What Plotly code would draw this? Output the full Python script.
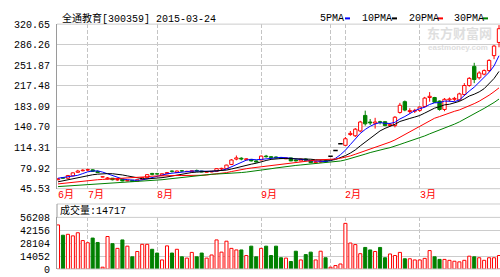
import plotly.graph_objects as go

W, H = 500, 277

# ---------------- data ----------------
open_ = [60.5, 64, 63, 67, 73, 75.5, 76.5, 77, 74.5, 65,
         62, 63, 60, 61.5, 58.5, 59.5, 58, 61, 64, 71,
         70.5, 68, 70.5, 75, 72.5, 75.5, 74, 74, 76, 75,
         73, 73.5, 74.5, 78.5, 79, 86, 95, 96.5, 94, 94.5,
         92, 93.5, 100, 99, 98.5, 97.5, 95.5, 97, 93.5, 92,
         95, 93, 89, 90, 92, 99.6, 109.5, 120.5, 118, 136,
         134, 142, 168, 157, 155, 157.5, 157.5, 151, 151, 173,
         191, 174.5, 175, 176.5, 183, 198, 198, 192, 178, 194,
         195, 194, 203, 218, 250, 231, 237, 243, 268, 290]
high = [63.5, 65, 68.5, 73, 77, 78, 79, 78, 76, 66,
        65, 63.5, 62, 62, 60.5, 60, 61, 64.5, 70, 72,
        72, 71, 73, 76, 76, 76.5, 75.5, 76, 77.5, 75.5,
        74.5, 75, 79.5, 80.5, 85.5, 95, 101, 98, 96.5, 95,
        93, 101, 102, 100, 99.5, 98, 97.5, 97.5, 94.5, 95.5,
        96, 93.5, 91.5, 93, 92.5, 99.6, 109.5, 120.5, 132, 142,
        147, 159, 176, 162, 164, 159, 158, 155, 167, 189,
        193, 180, 179, 183, 199, 207, 199, 193, 197, 198,
        199, 206, 222, 232, 256, 242, 245, 262, 286, 319]
low = [59.5, 62, 62, 66, 72, 74.5, 75, 73.5, 72, 64.5,
       61, 59.5, 59, 58, 58, 57, 57.5, 60, 63.5, 68,
       69, 67, 70, 72.5, 72, 73.5, 73.5, 73, 74, 73,
       72.5, 73, 74, 77, 78.5, 85, 93, 93, 93, 91,
       89.5, 93, 97.5, 96, 96.5, 95, 95, 91.5, 91, 91.5,
       92.5, 88.5, 88, 89, 90, 99.6, 109.5, 120.5, 117, 134,
       132, 140, 151, 152, 146, 153, 150, 149, 148, 171,
       175, 171, 172, 174, 181, 191, 189, 176, 175, 191,
       192, 192, 201, 216, 222, 228, 235, 240, 262, 282]
close = [62, 63, 67.5, 72, 75, 76.5, 77.5, 74.5, 72.5, 65.5,
         63.5, 60.5, 61, 58.5, 59.5, 57.5, 60.5, 64, 69, 69.5,
         70, 70.5, 72.5, 74.5, 75, 75, 74.5, 75.5, 75, 73.5,
         74, 74.5, 79, 79.5, 85, 93.5, 97, 95, 95.5, 92,
         90, 100, 99, 97.5, 97, 96, 97, 92, 92, 95,
         93, 89, 90.5, 91.5, 90.5, 99.6, 109.5, 120.5, 129, 138,
         145, 157, 154, 155.5, 157, 156.5, 151, 153, 165, 185,
         177, 176, 176.5, 182, 197, 200, 190, 178, 195, 195.5,
         196.5, 204, 218, 230, 228, 239, 243, 260, 284, 313]
volume = [48000, 36800, 37800, 36100, 39500, 31000, 28600, 33700, 28900, 2000,
          35400, 27600, 22500, 31700, 24900, 13300, 19100, 26900, 26900, 21500,
          17400, 9900, 25200, 17400, 21500, 13300, 11900, 18100, 13300, 17400,
          11900, 15300, 31700, 18400, 30300, 22500, 20800, 20800, 14700, 24900,
          13300, 22500, 24900, 14700, 24900, 12300, 11900, 8200, 19400, 9900,
          15700, 18400, 9900, 19400, 12300, 2000, 3800, 5500, 49700, 28300,
          26600, 16700, 23500, 20800, 19100, 23500, 12300, 16400, 14700, 18100,
          11200, 11200, 9900, 9900, 11600, 20100, 13300, 10500, 10500, 9500,
          8500, 7800, 9500, 14000, 13300, 12300, 9500, 12300, 12300, 14717]
ma5 = [63, 64, 65.5, 66.5, 67.9, 70.8, 73.7, 75.1, 75.2, 73.3,
       70.7, 67.3, 64.6, 61.8, 60.6, 59.4, 59.4, 60.0, 62.1, 64.1,
       66.6, 68.6, 70.3, 71.4, 72.5, 73.5, 74.3, 74.9, 75.0, 74.7,
       74.5, 74.5, 75.2, 76.1, 78.4, 82.3, 86.8, 90.0, 93.2, 94.6,
       93.9, 94.5, 95.3, 95.7, 96.7, 97.9, 97.3, 95.9, 94.8, 94.4,
       93.8, 92.2, 91.9, 91.8, 90.9, 92.2, 96.3, 102.3, 109.8, 119.3,
       128.4, 137.9, 144.6, 149.9, 153.7, 156.0, 154.8, 154.6, 156.5, 162.1,
       166.2, 171.2, 175.9, 179.3, 181.7, 186.3, 189.1, 189.4, 192.0, 191.7,
       191.0, 193.8, 201.8, 208.8, 215.3, 223.8, 231.6, 240.0, 250.8, 267.8]
ma10 = [57, 58.8, 60.6, 62.4, 64.2, 66, 67.5, 68.8, 69.8, 70.6,
        70.7, 70.5, 69.8, 68.5, 66.9, 65.0, 63.3, 62.3, 61.9, 62.4,
        63.0, 64.0, 65.2, 66.8, 68.3, 70.1, 71.5, 72.6, 73.2, 73.6,
        74.0, 74.4, 75.1, 75.6, 76.6, 78.4, 80.7, 82.6, 84.7, 86.5,
        88.1, 90.7, 92.7, 94.5, 95.7, 95.9, 95.9, 95.6, 95.3, 95.6,
        95.9, 94.8, 93.9, 93.3, 92.7, 93.0, 94.3, 97.1, 100.8, 105.1,
        110.3, 117.1, 123.5, 129.9, 136.5, 142.2, 146.4, 149.6, 153.2, 157.9,
        161.1, 163.0, 165.3, 167.9, 171.9, 176.3, 180.2, 182.7, 185.7, 186.7,
        188.7, 191.5, 195.6, 200.4, 203.5, 207.4, 212.7, 220.9, 229.8, 241.6]
ma20 = [53.5, 54.5, 55.5, 56.5, 57.5, 58.5, 59.5, 60, 60.5, 61,
        61.4, 61.8, 62.2, 62.6, 63, 63.5, 64, 64.7, 65.5, 66.5,
        66.9, 67.2, 67.5, 67.6, 67.6, 67.5, 67.4, 67.4, 67.6, 68.0,
        68.5, 69.2, 70.1, 71.2, 72.4, 74.2, 76.1, 77.6, 78.9, 80.1,
        81.1, 82.5, 83.9, 85.0, 86.1, 87.2, 88.3, 89.1, 90.0, 91.0,
        92.0, 92.7, 93.3, 93.9, 94.2, 94.5, 95.1, 96.4, 98.0, 100.3,
        103.1, 105.9, 108.7, 111.6, 114.6, 117.6, 120.3, 123.4, 127.0, 131.5,
        135.7, 140.1, 144.4, 148.9, 154.2, 159.2, 163.3, 166.1, 169.4, 172.3,
        174.9, 177.2, 180.4, 184.2, 187.7, 191.8, 196.4, 201.8, 207.7, 214.1]
ma30 = [49, 49.5, 50, 50.5, 51, 51.5, 52, 52.5, 53, 53.5,
        54, 54.5, 55, 55.5, 56, 56.6, 57.2, 57.8, 58.4, 59,
        59.7, 60.5, 61.5, 62.5, 63.5, 64.6, 65.7, 66.8, 67.8, 68.8,
        69.2, 69.6, 70.0, 70.3, 70.6, 71.2, 71.8, 72.5, 73.3, 74.2,
        75.0, 76.4, 77.6, 78.9, 80.2, 81.5, 82.7, 83.6, 84.4, 85.2,
        86.0, 86.6, 87.2, 87.8, 88.3, 89.1, 90.3, 91.8, 93.6, 95.7,
        98.1, 100.8, 103.3, 105.9, 108.3, 110.4, 112.2, 114.1, 116.4, 119.5,
        122.4, 125.0, 127.5, 130.4, 133.7, 137.2, 140.3, 143.1, 146.6, 149.9,
        153.4, 157.2, 161.4, 166.1, 170.6, 175.3, 179.7, 184.4, 189.6, 195.4]

price_ticks = [45.53, 79.92, 114.31, 148.70, 183.09, 217.48, 251.87, 286.26, 320.65]
price_tick_text = ["45.53", "79.92", "114.31", "140.70", "183.09", "217.48", "251.87", "286.26", "320.65"]
vol_ticks = [0, 14052, 28104, 42156, 56208]
vol_tick_text = ["0", "14052", "28104", "42156", "56208"]
grid_idx = [0, 6, 20, 41, 55, 58, 73]
month_idx = [0, 6, 20, 41, 58, 73]
month_labels = ["6月", "7月", "8月", "9月", "2月", "3月"]
ma_names = ["5PMA", "10PMA", "20PMA", "30PMA"]
ma_colors = ["#0000ff", "#000000", "#ff0000", "#008000"]
title_text = "全通教育[300359] 2015-03-24"
vol_label = "成交量:14717"

RED = "#ff0000"
GREEN = "#008000"
GRID = "#cccccc"
AXIS = "#9a9a9a"
MONO = "Liberation Mono, Noto Sans CJK SC, monospace"


def px(xp):
    return xp / W


def py(yp):
    return 1 - yp / H


xs = list(range(len(close)))
flat = [o == c and h == l for o, h, l, c in zip(open_, high, low, close)]
up = [c >= o for o, c in zip(open_, close)]

fig = go.Figure()

# ---------------- candle bodies ----------------
ux = [i for i in xs if up[i] and not flat[i]]
dx = [i for i in xs if not up[i]]
fig.add_trace(go.Bar(x=ux, base=[open_[i] for i in ux], y=[close[i] - open_[i] for i in ux],
                     width=0.68, marker=dict(color="white", line=dict(color=RED, width=1)),
                     xaxis="x", yaxis="y", hoverinfo="skip"))
fig.add_trace(go.Bar(x=dx, base=[close[i] for i in dx], y=[open_[i] - close[i] for i in dx],
                     width=0.68, marker=dict(color=GREEN, line=dict(color=GREEN, width=1)),
                     xaxis="x", yaxis="y", hoverinfo="skip"))


def wicks(idx):
    wx, wy = [], []
    for i in idx:
        top = max(open_[i], close[i])
        bot = min(open_[i], close[i])
        wx += [i, i, None, i, i, None]
        wy += [high[i], top, None, bot, low[i], None]
    return wx, wy


for idx, col in ((ux, RED), (dx, GREEN)):
    wx, wy = wicks(idx)
    fig.add_trace(go.Scatter(x=wx, y=wy, mode="lines", line=dict(color=col, width=1),
                             xaxis="x", yaxis="y", hoverinfo="skip"))

# one-price (limit) days drawn as short dashes
fx, fy = [], []
for i in xs:
    if flat[i]:
        fx += [i - 0.45, i + 0.45, None]
        fy += [close[i], close[i], None]
fig.add_trace(go.Scatter(x=fx, y=fy, mode="lines", line=dict(color="#000000", width=1.5),
                         xaxis="x", yaxis="y", hoverinfo="skip"))

# ---------------- moving averages ----------------
for vals, col in zip([ma5, ma10, ma20, ma30], ma_colors):
    fig.add_trace(go.Scatter(x=xs, y=vals, mode="lines", line=dict(color=col, width=1),
                             xaxis="x", yaxis="y", hoverinfo="skip"))

# ---------------- volume ----------------
vu = [i for i in xs if up[i]]
vd = [i for i in xs if not up[i]]
fig.add_trace(go.Bar(x=vu, y=[volume[i] for i in vu], width=0.62,
                     marker=dict(color="white", line=dict(color=RED, width=1)),
                     xaxis="x2", yaxis="y2", hoverinfo="skip"))
fig.add_trace(go.Bar(x=vd, y=[volume[i] for i in vd], width=0.62,
                     marker=dict(color=GREEN, line=dict(color=GREEN, width=1)),
                     xaxis="x2", yaxis="y2", hoverinfo="skip"))

# ---------------- layout ----------------
x_dom = [px(57), 1.0]
main_dom = [py(192), py(20)]
vol_dom = [py(276), py(222)]
xr = [-0.2, 89.2]

common_x = dict(domain=x_dom, range=xr, tickvals=grid_idx, showticklabels=False, ticks="",
                showgrid=True, gridcolor="#c4c4c4", griddash="4px,2px", gridwidth=1,
                zeroline=False, showline=False, fixedrange=True)

fig.update_layout(
    width=W, height=H, autosize=False,
    margin=dict(l=0, r=0, t=0, b=0),
    paper_bgcolor="white", plot_bgcolor="white",
    showlegend=False, barmode="overlay",
    xaxis=dict(anchor="y", **common_x),
    xaxis2=dict(anchor="y2", matches="x", **common_x),
    yaxis=dict(domain=main_dom, range=[price_ticks[0], price_ticks[-1]], anchor="x",
               tickvals=price_ticks, ticktext=price_tick_text, ticks="",
               tickfont=dict(family=MONO, size=10, color="#000000"), ticklabelstandoff=4,
               showgrid=True, gridcolor=GRID, gridwidth=1, zeroline=False,
               showline=True, linecolor=AXIS, linewidth=1),
    yaxis2=dict(domain=vol_dom, range=[vol_ticks[0], vol_ticks[-1]], anchor="x2",
                tickvals=vol_ticks, ticktext=vol_tick_text, ticks="",
                tickfont=dict(family=MONO, size=10, color="#000000"), ticklabelstandoff=4,
                showgrid=True, gridcolor=GRID, gridwidth=1, zeroline=False,
                showline=True, linecolor=AXIS, linewidth=1),
)

shapes = []


def hline(yp, col=GRID):
    shapes.append(dict(type="line", xref="paper", yref="paper", x0=px(57), x1=1.0,
                       y0=py(yp), y1=py(yp), line=dict(color=col, width=1)))


hline(20)
hline(192)
hline(208)
hline(222)
hline(276)
shapes.append(dict(type="line", xref="paper", yref="paper", x0=px(57), x1=px(57),
                   y0=py(208), y1=py(222), line=dict(color=AXIS, width=1)))

# legend colour keys
legend_text_x = [318, 360, 407, 452]
legend_key_x = [345, 392, 438, 483]
for kx, col in zip(legend_key_x, ma_colors):
    shapes.append(dict(type="line", xref="paper", yref="paper", x0=px(kx), x1=px(kx + 5),
                       y0=py(14), y1=py(14), line=dict(color=col, width=2)))
fig.update_layout(shapes=shapes)

ann = []
ann.append(dict(text=title_text, x=px(60), y=py(14), xref="paper", yref="paper",
                xanchor="left", yanchor="middle", showarrow=False,
                font=dict(family=MONO, size=10, color="#000000")))
for tx, name in zip(legend_text_x, ma_names):
    ann.append(dict(text=name, x=px(tx), y=py(14), xref="paper", yref="paper",
                    xanchor="left", yanchor="middle", showarrow=False,
                    font=dict(family=MONO, size=10, color="#000000")))
for mi, lab in zip(month_idx, month_labels):
    ann.append(dict(text=lab, x=mi, y=py(199), xref="x", yref="paper", xshift=-2,
                    xanchor="left", yanchor="middle", showarrow=False,
                    font=dict(family=MONO, size=10, color=RED)))
ann.append(dict(text=vol_label, x=px(58), y=py(215), xref="paper", yref="paper",
                xanchor="left", yanchor="middle", showarrow=False,
                font=dict(family=MONO, size=10, color="#000000")))
# watermark
ann.append(dict(text="东方财富网", x=px(459), y=py(29), xref="paper", yref="paper",
                xanchor="center", yanchor="middle", showarrow=False, borderpad=0,
                font=dict(family="Noto Sans CJK SC", size=13, color="#dedede", weight="bold")))
ann.append(dict(text="eastmoney.com", x=px(458), y=py(44), xref="paper", yref="paper",
                xanchor="center", yanchor="middle", showarrow=False, borderpad=0,
                font=dict(family="Liberation Sans", size=8, color="#dedede", weight="bold")))
fig.update_layout(annotations=ann)

fig.write_html("out.html")
